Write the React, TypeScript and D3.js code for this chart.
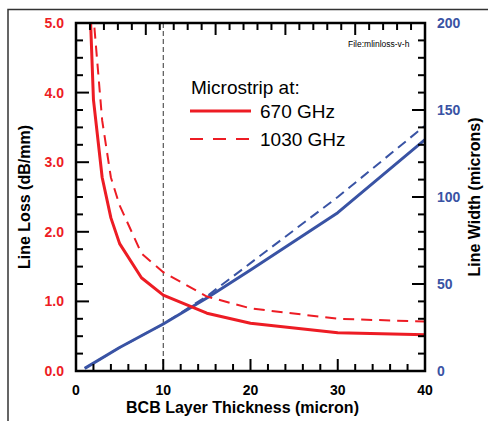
import React from "react";
import * as d3 from "d3";

// BCB layer thickness (micron)
const lossThickness670 = [1.5, 2, 3, 4, 5, 7.5, 10, 15, 20, 30, 40];
const loss670 = [5.6, 3.9, 2.78, 2.2, 1.83, 1.34, 1.09, 0.83, 0.685, 0.55, 0.52];

const lossThickness1030 = [1.5, 2, 3, 4, 5, 7.5, 10, 15, 20, 30, 40];
const loss1030 = [7.0, 5.1, 3.6, 2.78, 2.38, 1.69, 1.42, 1.07, 0.9, 0.75, 0.71];

const widthThickness670 = [1, 5, 10, 15, 20, 30, 40];
const width670 = [1.5, 13.5, 27, 42, 58, 91, 133];

const widthThickness1030 = [1, 5, 10, 15, 20, 30, 40];
const width1030 = [1.5, 13.5, 27, 43, 62, 100, 141];

const xTickLabels = [0, 10, 20, 30, 40];
const lossTickLabels = [0, 1, 2, 3, 4, 5];
const widthTickLabels = [0, 50, 100, 150, 200];

const RED = "#ED1C24";
const BLUE = "#3953A4";
const FONT = "Liberation Sans, Arial, Helvetica, sans-serif";

export default function App() {
  const W = 488;
  const H = 421;
  const left = 76;
  const right = 425;
  const top = 23;
  const bottom = 371;

  const x = d3.scaleLinear().domain([0, 40]).range([left, right]);
  const yLoss = d3.scaleLinear().domain([0, 5]).range([bottom, top]);
  const yWidth = d3.scaleLinear().domain([0, 200]).range([bottom, top]);
  // unlabeled top axis: 25 evenly spaced divisions
  const xTop = d3.scaleLinear().domain([0, 25]).range([left, right]);

  const lossLine = d3
    .line<[number, number]>()
    .x((d) => x(d[0]))
    .y((d) => yLoss(d[1]));
  const widthLine = d3
    .line<[number, number]>()
    .x((d) => x(d[0]))
    .y((d) => yWidth(d[1]));

  const zip = (a: number[], b: number[]) =>
    a.map((v, i) => [v, b[i]] as [number, number]);

  const bottomTicks = d3.range(0, 40.001, 2);
  const topTicks = d3.range(0, 25.001, 1);
  const leftTicks = d3.range(0, 5.001, 0.25);
  const rightTicks = d3.range(0, 200.001, 10);

  const majorLen = 12;
  const minorLen = 7;

  return (
    <svg
      width={W}
      height={H}
      style={{ position: "absolute", left: 0, top: 0, background: "#fff" }}
      fontFamily={FONT}
    >
      <defs>
        <clipPath id="plot-clip">
          <rect x={left} y={top} width={right - left} height={bottom - top} />
        </clipPath>
      </defs>

      {/* figure frame */}
      <path d={`M8,${H} V9.5 H${W}`} fill="none" stroke="#333" strokeWidth={1.5} />

      {/* reference thickness marker */}
      <line
        x1={x(10)}
        x2={x(10)}
        y1={top}
        y2={bottom}
        stroke="#333"
        strokeWidth={1}
        strokeDasharray="5,3"
      />

      <g clipPath="url(#plot-clip)" fill="none" strokeLinejoin="round">
        <path
          d={widthLine(zip(widthThickness1030, width1030)) || ""}
          stroke={BLUE}
          strokeWidth={2}
          strokeDasharray="10,6"
        />
        <path
          d={widthLine(zip(widthThickness670, width670)) || ""}
          stroke={BLUE}
          strokeWidth={3}
        />
        <path
          d={lossLine(zip(lossThickness1030, loss1030)) || ""}
          stroke={RED}
          strokeWidth={2}
          strokeDasharray="11,7"
        />
        <path
          d={lossLine(zip(lossThickness670, loss670)) || ""}
          stroke={RED}
          strokeWidth={3}
        />
      </g>

      {/* axis ticks (inward) */}
      <g stroke="#000" strokeWidth={2}>
        {bottomTicks.map((t) => (
          <line
            key={"b" + t}
            x1={x(t)}
            x2={x(t)}
            y1={bottom}
            y2={bottom - (t % 10 === 0 ? majorLen : minorLen)}
          />
        ))}
        {topTicks.map((t) => (
          <line
            key={"t" + t}
            x1={xTop(t)}
            x2={xTop(t)}
            y1={top}
            y2={top + (t % 5 === 0 ? majorLen : minorLen)}
          />
        ))}
        {leftTicks.map((t) => (
          <line
            key={"l" + t}
            x1={left}
            x2={left + (Math.abs(t - Math.round(t)) < 1e-6 ? majorLen + 1 : minorLen)}
            y1={yLoss(t)}
            y2={yLoss(t)}
          />
        ))}
        {rightTicks.map((t) => (
          <line
            key={"r" + t}
            x1={right}
            x2={right - (t % 50 === 0 ? majorLen + 1 : minorLen)}
            y1={yWidth(t)}
            y2={yWidth(t)}
          />
        ))}
      </g>

      {/* plot box */}
      <rect
        x={left}
        y={top}
        width={right - left}
        height={bottom - top}
        fill="none"
        stroke="#000"
        strokeWidth={2.5}
      />

      {/* tick labels */}
      <g fontSize={14} fontWeight="bold">
        {xTickLabels.map((t) => (
          <text key={"xl" + t} x={x(t)} y={395} textAnchor="middle" fill="#000">
            {t}
          </text>
        ))}
        {lossTickLabels.map((t) => (
          <text key={"ll" + t} x={64} y={yLoss(t) + 5} textAnchor="end" fill={RED}>
            {t.toFixed(1)}
          </text>
        ))}
        {widthTickLabels.map((t) => (
          <text key={"wl" + t} x={437} y={yWidth(t) + 5} textAnchor="start" fill={BLUE}>
            {t}
          </text>
        ))}
      </g>

      {/* axis titles */}
      <g fontSize={16} fontWeight="bold" fill="#000">
        <text x={(left + right) / 2 - 8} y={413} textAnchor="middle">
          BCB Layer Thickness (micron)
        </text>
        <text
          transform={`translate(29.5,${(top + bottom) / 2}) rotate(-90)`}
          textAnchor="middle"
        >
          Line Loss (dB/mm)
        </text>
        <text
          transform={`translate(480,${(top + bottom) / 2}) rotate(-90)`}
          textAnchor="middle"
        >
          Line Width (microns)
        </text>
      </g>

      <text x={348} y={46.5} fontSize={8.5} fill="#000">
        File:mlinloss-v-h
      </text>

      {/* legend */}
      <g fill="#000" fontSize={19}>
        <text x={191} y={94}>Microstrip at:</text>
        <line x1={190} x2={251} y1={111} y2={111} stroke={RED} strokeWidth={3} />
        <text x={260} y={117.5}>670 GHz</text>
        <line
          x1={190}
          x2={251}
          y1={139}
          y2={139}
          stroke={RED}
          strokeWidth={2}
          strokeDasharray="13,10"
        />
        <text x={260} y={145.5}>1030 GHz</text>
      </g>
    </svg>
  );
}
